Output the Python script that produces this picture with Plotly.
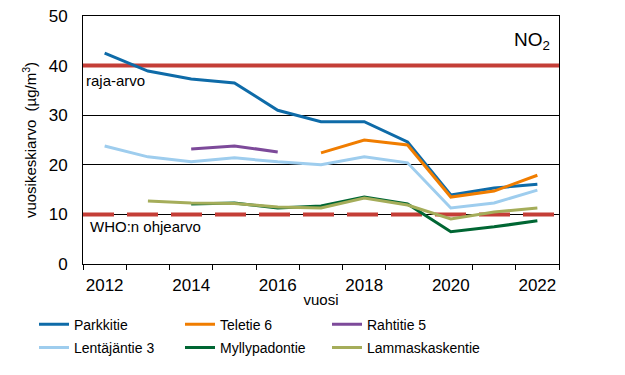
import plotly.graph_objects as go

years = [2012, 2013, 2014, 2015, 2016, 2017, 2018, 2019, 2020, 2021, 2022]

parkkitie = [42.5, 38.9, 37.3, 36.5, 31.0, 28.7, 28.7, 24.6, 13.9, 15.3, 16.1]
teletie6 = [None, None, None, None, None, 22.4, 25.0, 24.0, 13.5, 14.7, 17.9]
rahtitie5 = [None, None, 23.2, 23.8, 22.6, None, None, None, None, None, None]
lentajantie3 = [23.8, 21.6, 20.6, 21.4, 20.6, 20.0, 21.6, 20.4, 11.3, 12.3, 14.9]
myllypadontie = [None, None, 12.1, 12.3, 11.3, 11.7, 13.5, 12.1, 6.5, 7.5, 8.7]
lammaskaskentie = [None, 12.7, 12.3, 12.2, 11.5, 11.3, 13.3, 11.9, 9.1, 10.5, 11.3]

series_names = ["Parkkitie", "Teletie 6", "Rahtitie 5", "Lentäjäntie 3", "Myllypadontie", "Lammaskaskentie"]
series_values = [parkkitie, teletie6, rahtitie5, lentajantie3, myllypadontie, lammaskaskentie]
series_colors = ["#0E6BA8", "#F07D00", "#7D4A9A", "#9ECDEE", "#006633", "#A5AD5A"]

limit_value = 40
who_value = 10
tick_years = [2012, 2014, 2016, 2018, 2020, 2022]
y_ticks = [0, 10, 20, 30, 40, 50]

FONT = "Liberation Sans, Arial, sans-serif"
W, H = 625, 375

x_lo = years[0] - 0.5
x_hi = years[-1] + 0.5

fig = go.Figure()

# limit lines (drawn first so series lie on top)
fig.add_trace(go.Scatter(x=[x_lo, x_hi], y=[limit_value, limit_value], mode="lines",
                         line=dict(color="#C43E37", width=4), showlegend=False, hoverinfo="skip"))
fig.add_trace(go.Scatter(x=[x_lo, x_hi], y=[who_value, who_value], mode="lines",
                         line=dict(color="#C43E37", width=4, dash="31px,13px"), showlegend=False,
                         hoverinfo="skip"))

# legend slots: 3 columns x 2 rows, one small legend per entry
legend_cols_px = [34, 180, 327]
legend_rows = [0.177, 0.115]
legend_layout = {}
for i, (name, vals, col) in enumerate(zip(series_names, series_values, series_colors)):
    key = "legend" if i == 0 else f"legend{i + 1}"
    fig.add_trace(go.Scatter(
        x=years, y=vals, name=name, mode="lines",
        line=dict(color=col, width=3),
        connectgaps=False,
        legend=key,
    ))
    legend_layout[key] = dict(
        orientation="h", xref="container", yref="container", xanchor="left", yanchor="top",
        x=legend_cols_px[i % 3] / W, y=legend_rows[i // 3],
        font=dict(size=14), bgcolor="rgba(0,0,0,0)",
    )

fig.add_annotation(text="raja-arvo", xref="x domain", x=0, xshift=1, xanchor="left",
                   y=37.0, yanchor="middle", showarrow=False, font=dict(size=15, color="#000"))
fig.add_annotation(text="WHO:n ohjearvo", xref="x domain", x=0, xshift=5, xanchor="left",
                   y=7.5, yanchor="middle", showarrow=False, font=dict(size=15, color="#000"))
fig.add_annotation(text="NO<sub>2</sub>", xref="x domain", x=0.985, xanchor="right",
                   y=45.0, yanchor="middle", showarrow=False, font=dict(size=19, color="#000"))

fig.update_layout(
    width=W, height=H,
    margin=dict(l=83, r=66, t=16, b=111, autoexpand=False),
    paper_bgcolor="white", plot_bgcolor="white",
    font=dict(family=FONT, size=14, color="#000"),
    xaxis=dict(
        range=[x_lo, x_hi], tickmode="array", tickvals=tick_years,
        ticktext=[str(t) for t in tick_years],
        ticks="outside", ticklen=5, tickcolor="rgba(0,0,0,0)",
        showgrid=False, zeroline=False, automargin=False,
        showline=True, linecolor="#000", linewidth=1, mirror=True,
        tickfont=dict(size=17), ticklabelstandoff=1,
        minor=dict(tickmode="linear", tick0=x_lo, dtick=1, ticks="outside", ticklen=5,
                   tickcolor="#000", showgrid=False),
        title=dict(text="vuosi", font=dict(size=15), standoff=0),
    ),
    yaxis=dict(
        range=[0, 50], tickmode="array", tickvals=y_ticks,
        showgrid=True, gridcolor="#000", gridwidth=1, zeroline=False, automargin=False,
        showline=True, linecolor="#000", linewidth=1, mirror=True,
        ticks="", tickfont=dict(size=17), ticklabelstandoff=11,
        title=dict(text="vuosikeskiarvo  (µg/m<sup>3</sup>)", font=dict(size=15), standoff=8),
    ),
    **legend_layout,
)

fig.write_html("out.html", config={"displayModeBar": False},
               post_script="document.body.style.margin='0';")
